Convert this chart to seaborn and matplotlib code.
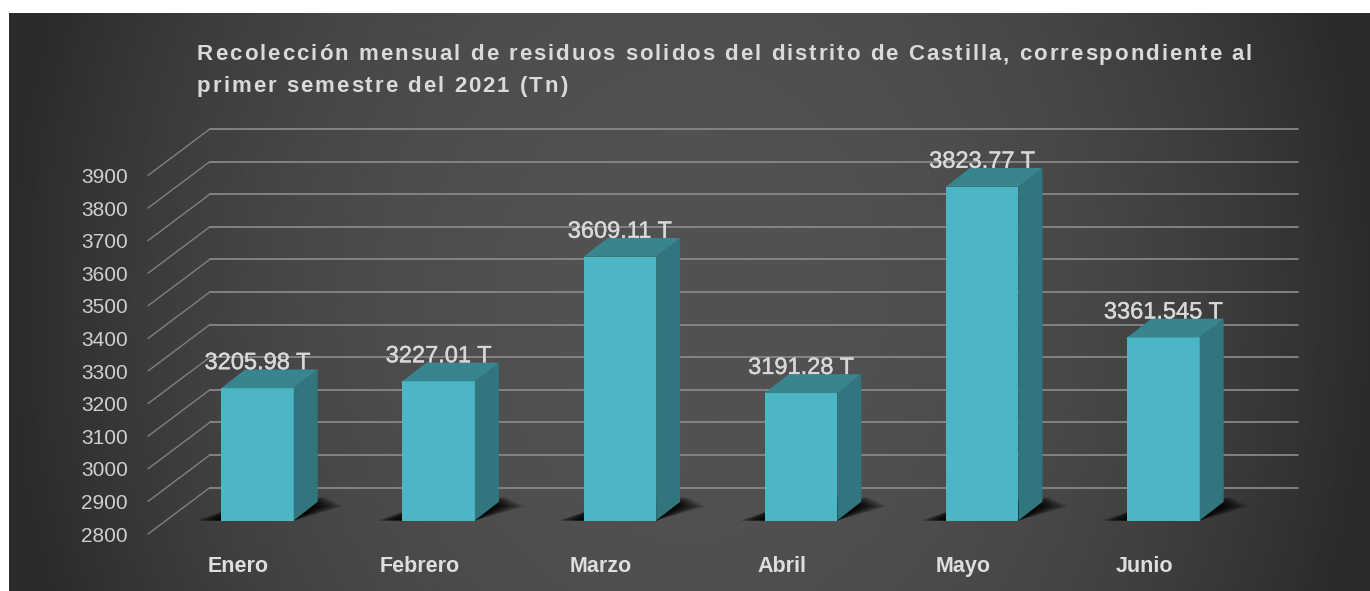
import numpy as np
import matplotlib
matplotlib.use("Agg")
import matplotlib.pyplot as plt
import matplotlib.patheffects as pe
from matplotlib.patches import Polygon
from matplotlib.text import Text
from matplotlib.transforms import IdentityTransform, ScaledTranslation
import seaborn as sns

meses = ["Enero", "Febrero", "Marzo", "Abril", "Mayo", "Junio"]
toneladas = [3205.98, 3227.01, 3609.11, 3191.28, 3823.77, 3361.545]
etiquetas = ["3205.98 T", "3227.01 T", "3609.11 T", "3191.28 T", "3823.77 T", "3361.545 T"]
marcas_y = [2800, 2900, 3000, 3100, 3200, 3300, 3400, 3500, 3600, 3700, 3800, 3900]
titulo = ["Recolección mensual de residuos solidos del distrito de Castilla, correspondiente al",
          "primer semestre del 2021 (Tn)"]

W, H = 1370, 591


class TextoEspaciado(Text):
    # matplotlib no tiene letter-spacing: dibuja letra por letra
    espacio = 2.0

    def draw(self, renderer):
        completo = self.get_text()
        x0, y0 = self.get_transform().transform(self.get_position())
        pos = self.get_position()
        tr = self.get_transform()
        self.set_transform(IdentityTransform())
        prop = self.get_fontproperties()
        for i, c in enumerate(completo):
            ancho = renderer.get_text_width_height_descent(completo[:i] + "|", prop, False)[0]
            barra = renderer.get_text_width_height_descent("|", prop, False)[0]
            self.set_text(c)
            self.set_position((x0 + ancho - barra + i * self.espacio, y0))
            if c != " ":
                super().draw(renderer)
        self.set_text(completo)
        self.set_position(pos)
        self.set_transform(tr)


sns.set_theme(style="dark", rc={"axes.facecolor": "none", "figure.facecolor": "white"})
plt.rcParams["font.family"] = ["Liberation Sans", "DejaVu Sans"]

fig = plt.figure(figsize=(W / 100, H / 100), dpi=100)

# fondo gris con degradado
L, T = 9, 13
bg = fig.add_axes([L / W, 0, 1 - L / W, 1 - T / H], zorder=0)
xx, yy = np.meshgrid(np.linspace(-1, 1, 400), np.linspace(-1, 1, 200))
lum = 0.32 - 0.15 * np.clip(xx**2 + 0.12 * yy**2, 0, 1) ** 1.2
bg.imshow(lum, cmap="gray", vmin=0, vmax=1, aspect="auto")
bg.axis("off")

# ejes en el plano frontal de las barras
ax = fig.add_axes([166.9 / W, 1 - 520.5 / H, (1254 - 166.9) / W, (520.5 - 129.3) / H], zorder=1)
sns.barplot(x=meses, y=toneladas, color="#4DB6C4", saturation=1, width=0.4, ax=ax, zorder=3,
            edgecolor="none", linewidth=0)
ax.set_xlim(-0.5, 5.5)
ax.set_ylim(2800, 4000)
ax.set_yticks(marcas_y)
ax.tick_params(axis="y", length=0, pad=28, labelsize=15, labelcolor="#CFCFCF")
ax.tick_params(axis="x", length=0, pad=25.5, labelsize=15.5, labelcolor="#DEDEDE")
sns.despine(ax=ax, left=True, bottom=True)
ax.grid(False)

# etiquetas desplazadas como en la perspectiva
desp_y = ScaledTranslation(0, -13.5 / 100, fig.dpi_scale_trans)
for t in ax.get_yticklabels():
    t.set_transform(t.get_transform() + desp_y)
desp_x = ScaledTranslation(-19 / 100, 0, fig.dpi_scale_trans)
for t in ax.get_xticklabels():
    t.set_transform(t.get_transform() + desp_x)
    t.set_fontweight("bold")

fig.canvas.draw()
id_tr = IdentityTransform()


def a_px(x, y):
    return ax.transData.transform((x, y))


# rejilla: pared del fondo y suelo en diagonal
x_izq = a_px(-0.5, 2800)[0] - 18.9
x_der = x_izq + 62
for v in marcas_y:
    y0 = a_px(0, v)[1]
    ax.plot([x_izq, x_der], [y0 - 13.5, y0 + 33], transform=id_tr, color="#808080",
            lw=1.0, clip_on=False, zorder=1)
    ax.plot([x_der, 1298], [y0 + 33, y0 + 33], transform=id_tr, color="#8A8A8A",
            lw=1.25, clip_on=False, zorder=1)

# caras 3d y sombra de cada barra
prof = np.array([24, 18.7])
for i, barra in enumerate(ax.patches):
    a = a_px(barra.get_x(), 2800)
    b = a_px(barra.get_x() + barra.get_width(), toneladas[i])
    izq, base, der, tope = a[0], a[1], b[0], b[1]
    for g in np.linspace(32, 1, 20):
        alto = base + (prof[1] + 5) * (1 - g / 80)
        f = (alto - base) / prof[1]
        som = [(izq - g * 0.8, base), (der, base), (der + prof[0] * f + g, alto), (izq + prof[0] * f, alto)]
        ax.add_patch(Polygon(som, closed=True, transform=id_tr, facecolor="black", alpha=0.1,
                             edgecolor="none", clip_on=False, zorder=2))
    lado = [(der, base), (der + prof[0], base + prof[1]), (der + prof[0], tope + prof[1]), (der, tope)]
    arriba = [(izq, tope), (der, tope), (der + prof[0], tope + prof[1]), (izq + prof[0], tope + prof[1])]
    ax.add_patch(Polygon(lado, closed=True, transform=id_tr, facecolor="#31767F", edgecolor="none",
                         clip_on=False, zorder=3))
    ax.add_patch(Polygon(arriba, closed=True, transform=id_tr, facecolor="#39858F", edgecolor="none",
                         clip_on=False, zorder=3))
    ax.annotate(etiquetas[i], (i, toneladas[i]), xytext=(0, 19 * 0.72), textcoords="offset points",
                ha="center", va="baseline", fontsize=17, color="#D8D8D8", zorder=5, annotation_clip=False,
                path_effects=[pe.withStroke(linewidth=0.3, foreground="#D8D8D8")])

for linea, y in zip(titulo, [60, 92]):
    fig.add_artist(TextoEspaciado(197 / W, 1 - y / H, linea, fontsize=16, fontweight="bold", color="#DADADA",
                                  va="baseline", transform=fig.transFigure))

fig.savefig("out.png", dpi=100, facecolor="white")
